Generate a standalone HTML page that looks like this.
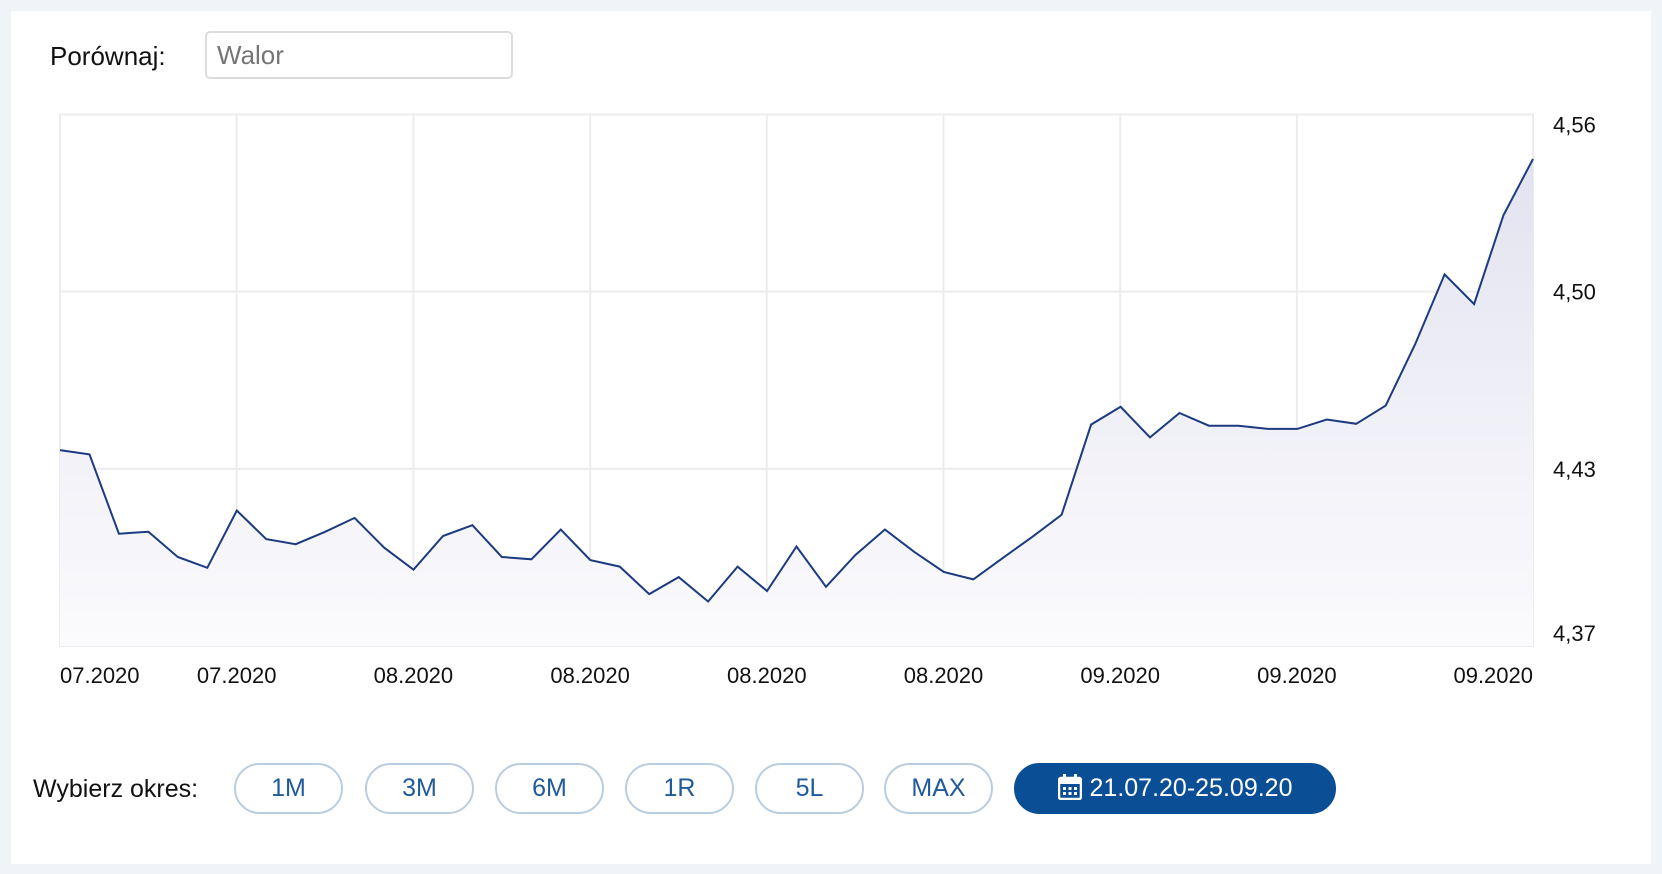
<!DOCTYPE html>
<html><head><meta charset="utf-8"><style>
body{margin:0;width:1662px;height:874px;background:#f0f4f8;font-family:"Liberation Sans",sans-serif;overflow:hidden;position:relative}
.card{position:absolute;left:11px;top:11px;width:1640px;height:853px;background:#fff}
.lbl{position:absolute;color:#111;font-size:26px}
.inp{position:absolute;left:205px;top:31px;width:308px;height:48px;border:2px solid #dcdcdc;border-radius:5px;box-sizing:border-box;font-size:26px;color:#777;padding:9px 10px;font-family:"Liberation Sans",sans-serif}
.btn{position:absolute;top:763px;height:51px;width:109px;border:2px solid #b9cde0;border-radius:26px;box-sizing:border-box;color:#1f5a9a;font-size:25px;text-align:center;line-height:47px;background:#fff}
.act{background:#0a4f95;border-color:#0a4f95;color:#fff;width:322px}
svg{position:absolute;left:0;top:0}
</style></head><body>
<div class="card"></div>
<div class="lbl" style="left:50px;top:41px">Porównaj:</div>
<input class="inp" placeholder="Walor">
<svg width="1662" height="874" id="chart">
<defs><linearGradient id="g" x1="0" y1="0" x2="0" y2="1"><stop offset="0" stop-color="#e3e3f0"/><stop offset="1" stop-color="#fbfbfd"/></linearGradient></defs>
</svg>
<div class="lbl" style="left:33px;top:775px;font-size:25px">Wybierz okres:</div>
<div class="btn" style="left:234px">1M</div>
<div class="btn" style="left:365px">3M</div>
<div class="btn" style="left:495px">6M</div>
<div class="btn" style="left:625px">1R</div>
<div class="btn" style="left:755px">5L</div>
<div class="btn" style="left:884px">MAX</div>
<div class="btn act" style="left:1014px"><svg style="position:relative;left:0;top:4px;margin-right:8px" width="24" height="26" viewBox="0 0 24 26"><rect x="1" y="4" width="22" height="21" rx="2" fill="none" stroke="#fff" stroke-width="2.5"/><rect x="1" y="4" width="22" height="6" fill="#fff"/><rect x="5" y="0" width="3" height="6" fill="#fff"/><rect x="16" y="0" width="3" height="6" fill="#fff"/><g fill="#fff"><rect x="5" y="13" width="3" height="3"/><rect x="10.5" y="13" width="3" height="3"/><rect x="16" y="13" width="3" height="3"/><rect x="5" y="18" width="3" height="3"/><rect x="10.5" y="18" width="3" height="3"/><rect x="16" y="18" width="3" height="3"/></g></svg>21.07.20-25.09.20</div>
<script>
const values=[4.4441,4.4426,4.4146,4.4153,4.4064,4.4026,4.4228,4.4127,4.4109,4.4153,4.4202,4.4097,4.4019,4.4138,4.4176,4.4064,4.4056,4.4161,4.4053,4.4030,4.3933,4.3993,4.3907,4.4030,4.3944,4.4101,4.3959,4.4071,4.4161,4.4082,4.4011,4.3985,4.4060,4.4135,4.4213,4.4531,4.4594,4.4486,4.4572,4.4527,4.4527,4.4516,4.4516,4.4549,4.4534,4.4598,4.4815,4.5061,4.4956,4.5270,4.5468];
const yTicks=[4.5625,4.5,4.4375,4.375];
const yTickLabels=["4,56","4,50","4,43","4,37"];
const xTickLabels=["07.2020","07.2020","08.2020","08.2020","08.2020","08.2020","09.2020","09.2020","09.2020"];
const L=60,R=1533,T=114.5,B=646,yMin=4.375,yMax=4.5625;
const NS="http://www.w3.org/2000/svg";
const svg=document.getElementById('chart');
function xs(i){return L+(R-L)*i/(values.length-1);}
function ys(v){return B-(v-yMin)/(yMax-yMin)*(B-T);}
function mk(t,a){const e=document.createElementNS(NS,t);for(const k in a)e.setAttribute(k,a[k]);svg.appendChild(e);return e;}
const bg=mk('rect',{x:L,y:T,width:R-L,height:B-T,fill:'#fff',stroke:'#ececec','stroke-width':2});


const step=(R-L)/8.33;
for(let k=1;k<=7;k++){const x=L+k*176.7;const g=mk('line',{x1:x,x2:x,y1:T,y2:B,stroke:'#ececec','stroke-width':2});

}
yTicks.forEach((v,i)=>{const y=ys(v);if(i>0&&i<yTicks.length-1){const g=mk('line',{x1:L,x2:R,y1:y,y2:y,stroke:'#ececec','stroke-width':2});

}
const ty=i==0?y+18:(i==yTicks.length-1?y-5:y+8);
const t=mk('text',{x:1553,y:ty,'font-size':22,fill:'#111','font-family':'Liberation Sans'});t.textContent=yTickLabels[i];

});
xTickLabels.forEach((s,i)=>{let x=L+i*176.7,anchor='middle';if(i==0){x=L;anchor='start';}if(i==xTickLabels.length-1){x=R;anchor='end';}
const t=mk('text',{x:x,y:683,'font-size':22,fill:'#111','text-anchor':anchor,'font-family':'Liberation Sans'});t.textContent=s;

});
let d=values.map((v,i)=>(i?'L':'M')+xs(i).toFixed(1)+','+ys(v).toFixed(1)).join(' ');
const area=mk('path',{d:d+` L${R},${B} L${L},${B} Z`,fill:'url(#g)'});


const line=mk('path',{d:d,fill:'none',stroke:'#1b3a80','stroke-width':2});


</script>
</body></html>
